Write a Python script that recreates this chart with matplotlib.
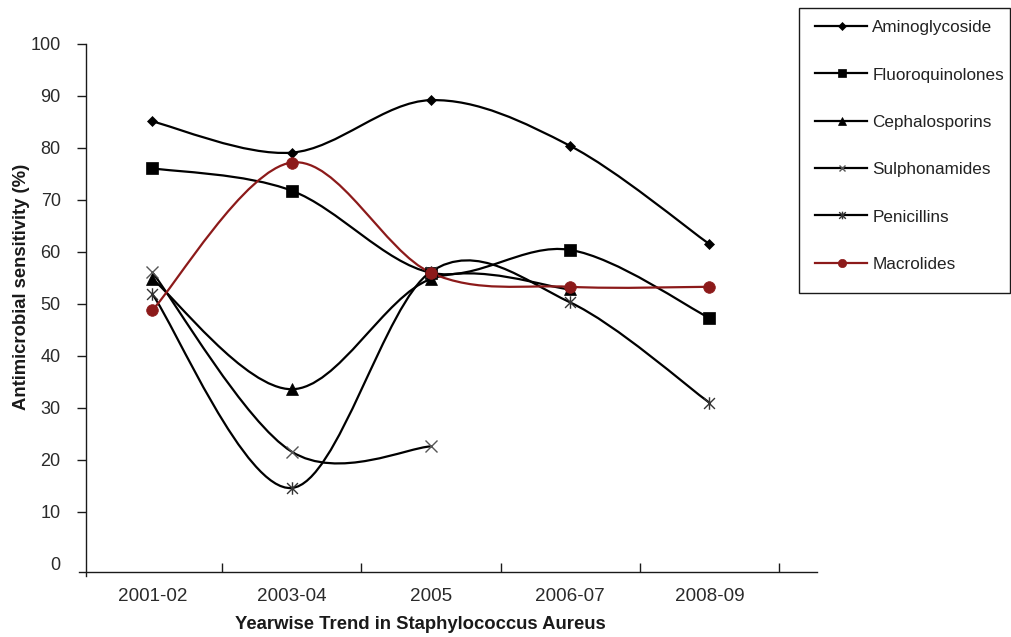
import matplotlib
matplotlib.use('Agg')
import matplotlib.pyplot as plt
from matplotlib.path import Path
from matplotlib.patches import PathPatch, Rectangle
from matplotlib.lines import Line2D
from matplotlib.transforms import Affine2D
from matplotlib import font_manager as fm

# ---------------- data ----------------
categories = ['2001-02', '2003-04', '2005', '2006-07', '2008-09']
aminoglycoside = [85.1, 79.1, 89.2, 80.4, 61.5]
fluoroquinolones = [76.1, 71.8, 56.0, 60.4, 47.3]
cephalosporins = [54.8, 33.6, 54.8, 52.8]
sulphonamides = [56.1, 21.6, 22.6]
penicillins = [51.9, 14.6, 56.2, 50.3, 31.0]
macrolides = [48.8, 77.2, 56.0, 53.3, 53.3]
series_names = ['Aminoglycoside', 'Fluoroquinolones', 'Cephalosporins',
                'Sulphonamides', 'Penicillins', 'Macrolides']
yticks = list(range(0, 101, 10))
xlabel_text = 'Yearwise Trend in Staphylococcus Aureus'
ylabel_text = 'Antimicrobial sensitivity (%)'

W, H = 1011, 637


def have(fam):
    try:
        fm.findfont(fm.FontProperties(family=fam), fallback_to_default=False)
        return True
    except Exception:
        return False


NARROW = have('Liberation Sans Narrow')
if NARROW:
    tick_fam = ['Liberation Sans Narrow', 'DejaVu Sans']
    xt_size, yt_size, xl_size = 15, 14, 16
else:
    tick_fam = ['Liberation Sans', 'DejaVu Sans']
    xt_size, yt_size, xl_size = 13.6, 13.0, 13.3
reg_fam = ['Liberation Sans', 'DejaVu Sans']

fig = plt.figure(figsize=(W / 100, H / 100), dpi=100)
ax_l, ax_r, ax_t, ax_b = 85.7, 816.7, 44.0, 571.7
ax = fig.add_axes([ax_l / W, (H - ax_b) / H, (ax_r - ax_l) / W, (ax_b - ax_t) / H])
ax.set_xlim(-0.478, 4.770)
ax.set_ylim(-1.5, 100)

# pixel transform (origin top-left) for layout items
pix = Affine2D().scale(1 / W, -1 / H).translate(0, 1) + fig.transFigure

dark_red = '#8c1a1a'


def smooth_path(xs, ys):
    pts = list(zip(xs, ys))
    n = len(pts)
    verts = [pts[0]]
    codes = [Path.MOVETO]
    for i in range(n - 1):
        p0 = pts[i - 1] if i > 0 else pts[i]
        p1 = pts[i]
        p2 = pts[i + 1]
        p3 = pts[i + 2] if i + 2 < n else pts[i + 1]
        c1 = (p1[0] + (p2[0] - p0[0]) / 6, p1[1] + (p2[1] - p0[1]) / 6)
        c2 = (p2[0] - (p3[0] - p1[0]) / 6, p2[1] - (p3[1] - p1[1]) / 6)
        verts += [c1, c2, p2]
        codes += [Path.CURVE4] * 3
    return Path(verts, codes)


asterisk = Path([(-1, -1), (1, 1), (-1, 1), (1, -1), (0, -1.15), (0, 1.15)],
                [Path.MOVETO, Path.LINETO, Path.MOVETO, Path.LINETO,
                 Path.MOVETO, Path.LINETO])

series = [aminoglycoside, fluoroquinolones, cephalosporins,
          sulphonamides, penicillins, macrolides]
styles = [
    dict(color='black', marker='D', ms=5.6, mfc='black', mec='black', mew=0.5),
    dict(color='black', marker='s', ms=8.2, mfc='black', mec='black', mew=0.5),
    dict(color='black', marker='^', ms=8.5, mfc='black', mec='black', mew=0.5),
    dict(color='black', marker='x', ms=8.0, mfc='none', mec='#555555', mew=1.0),
    dict(color='black', marker=asterisk, ms=9.0, mfc='none', mec='#333333', mew=1.0),
    dict(color=dark_red, marker='o', ms=8.4, mfc=dark_red, mec=dark_red, mew=0.5),
]
legend_ms = [3.8, 5.8, 5.8, 5.0, 5.5, 6.0]

for k, (vals, st) in enumerate(zip(series, styles)):
    xs = list(range(len(vals)))
    patch = PathPatch(smooth_path(xs, vals), facecolor='none',
                      edgecolor=st['color'], lw=1.6, zorder=2 + k * 0.1,
                      capstyle='round', joinstyle='round')
    ax.add_patch(patch)
    ax.plot(xs, vals, linestyle='none', marker=st['marker'], ms=st['ms'],
            mfc=st['mfc'], mec=st['mec'], mew=st['mew'], zorder=3 + k * 0.1,
            clip_on=False)

# ---------------- axes styling ----------------
for s in ['top', 'right']:
    ax.spines[s].set_visible(False)
ax.spines['left'].set_bounds(-1.5 - 4.5 / 5.2, 100)
ax.spines['bottom'].set_bounds(-0.478 - 6.4 / 139.3, 4.770)
for s in ['left', 'bottom']:
    ax.spines[s].set_linewidth(1.0)
    ax.spines[s].set_color('#1a1a1a')

ax.set_yticks(yticks)
ax.set_yticklabels([str(v) for v in yticks])
ax.tick_params(axis='y', direction='out', length=6.5, width=1.0, pad=11.5,
               labelsize=yt_size, labelcolor='#2a2a2a', color='#1a1a1a')
for lab in ax.get_yticklabels():
    lab.set_family(tick_fam)
ax.yaxis.get_major_ticks()[0].tick1line.set_visible(False)

ax.set_xticks([0.5, 1.5, 2.5, 3.5, 4.5])
ax.set_xticklabels([''] * 5)
ax.set_xticks(range(len(categories)), minor=True)
ax.set_xticklabels(categories, minor=True)
ax.tick_params(axis='x', which='major', direction='in', length=6.5, width=1.0,
               color='#1a1a1a', labelbottom=False)
ax.tick_params(axis='x', which='minor', length=0, pad=11.5,
               labelsize=xt_size, labelcolor='#2a2a2a')
for lab in ax.get_xticklabels(minor=True):
    lab.set_family(tick_fam)

# axis titles
fig.text(21.9, 286.7, ylabel_text, transform=pix, rotation=90, ha='center',
         va='center', fontsize=13.3, fontweight='bold', family=reg_fam,
         color='#1a1a1a')
fig.text(420.3, 629.3, xlabel_text, transform=pix, ha='center',
         va='baseline', fontsize=xl_size, fontweight='bold', family=tick_fam,
         color='#1a1a1a')

# ---------------- legend ----------------
fig.patches.append(Rectangle((799, 8), 211, 285, transform=pix, fill=False,
                             edgecolor='#1a1a1a', lw=1.0))
leg_y0, leg_dy = 26.0, 47.3
for k, (name, st) in enumerate(zip(series_names, styles)):
    y = leg_y0 + k * leg_dy
    fig.lines.append(Line2D([815, 866.7], [y, y], transform=pix,
                            color=st['color'], lw=1.6))
    fig.lines.append(Line2D([841.7], [y], transform=pix, linestyle='none',
                            marker=st['marker'], ms=legend_ms[k], mfc=st['mfc'],
                            mec=st['mec'], mew=st['mew']))
    fig.text(872.3, y + 6.3, name, transform=pix, ha='left', va='baseline',
             fontsize=12.3, family=reg_fam, color='#222222')

fig.savefig('out.png', dpi=100)
